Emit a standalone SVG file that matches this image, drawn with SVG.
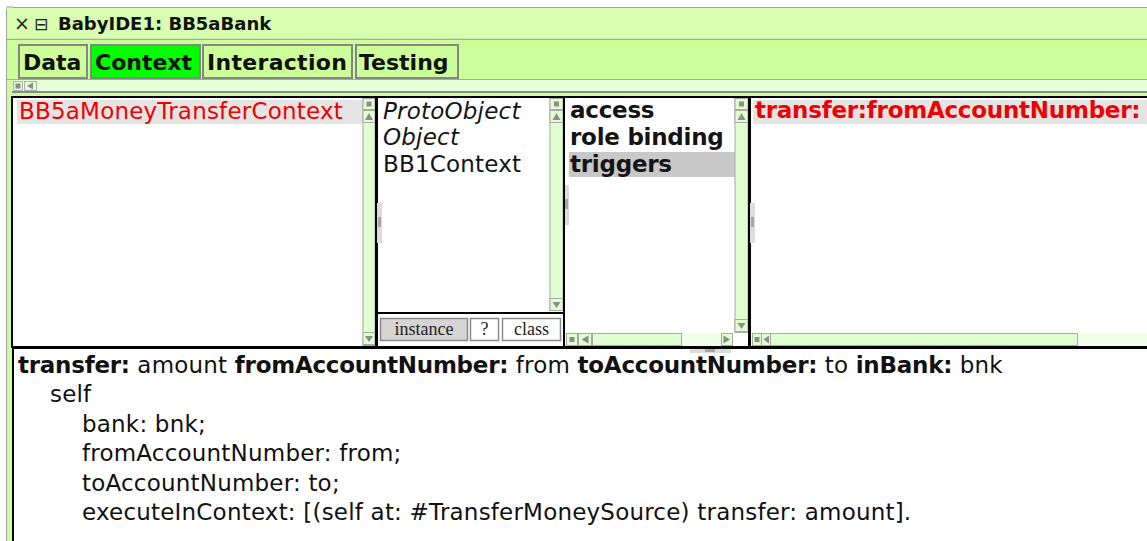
<svg xmlns="http://www.w3.org/2000/svg" width="1147" height="541" viewBox="0 0 1147 541">
  <style>
    .ui { font-family: "DejaVu Sans", "Liberation Sans", sans-serif; }
    .list { font-family: "DejaVu Sans", "Liberation Sans", sans-serif; font-size: 23px; fill: #141414; letter-spacing: 0.2px; }
    .code { font-family: "DejaVu Sans", "Liberation Sans", sans-serif; font-size: 23px; fill: #111111; letter-spacing: 0.2px; }
    .red { fill: #f00000; }
    .b { font-weight: bold; letter-spacing: -0.25px; }
    .tab { fill: #ccff99; stroke: #858585; stroke-width: 2; }
    .tabtext { font-family: "DejaVu Sans", "Liberation Sans", sans-serif; font-size: 22px; font-weight: bold; fill: #111111; }
    .sb { fill: #e0ffd0; stroke: #a8a8a8; stroke-width: 1; }
    .sbtrack { fill: #f0ffe8; stroke: none; }
    .knob { fill: #8c8c8c; }
    .arrow { fill: #8c8c8c; }
    .pane { fill: #ffffff; }
    .border { stroke: #000000; fill: none; }
    .btn { stroke: #8a8a8a; stroke-width: 1.5; }
    .btntext { font-family: "Liberation Serif", "DejaVu Serif", serif; font-size: 18px; fill: #222222; text-anchor: middle; }
    .grip { fill: #dcdcdc; }
    .gripdark { fill: #a6a6a6; }
  </style>

  <!-- page background -->
  <rect x="0" y="0" width="1147" height="541" fill="#ffffff"/>

  <!-- window frame -->
  <g id="window">
    <rect x="6.5" y="7.5" width="1145" height="540" fill="#ccff99" stroke="#a0a0a0" stroke-width="1"/>
    <rect x="6" y="6" width="7" height="4" fill="#c8c8c8"/>
    <!-- title bar -->
    <rect x="7" y="8" width="1140" height="31" fill="#d8ffb0"/>
    <line x1="7" y1="39.5" x2="1147" y2="39.5" stroke="#a8a8a8" stroke-width="1.5"/>
    <text x="14" y="30" class="ui" font-size="19" fill="#222">×</text>
    <text x="34" y="30" class="ui" font-size="17" fill="#222">⊟</text>
    <text x="58" y="30" class="ui" font-size="18" font-weight="bold" fill="#111">BabyIDE1: BB5aBank</text>
  </g>

  <!-- tab row -->
  <g id="tabs">
    <rect x="7" y="40" width="1140" height="39" fill="#ccff99"/>
    <line x1="7" y1="79.5" x2="1147" y2="79.5" stroke="#a8a8a8" stroke-width="1"/>
    <g id="tab-data">
      <rect x="19" y="45" width="68" height="33" class="tab"/>
      <text x="23" y="70" class="tabtext">Data</text>
    </g>
    <g id="tab-context">
      <rect x="91" y="45" width="109" height="33" class="tab" style="fill:#00ff00"/>
      <text x="95" y="70" class="tabtext">Context</text>
    </g>
    <g id="tab-interaction">
      <rect x="203" y="45" width="149" height="33" class="tab"/>
      <text x="207" y="70" class="tabtext" letter-spacing="0.3">Interaction</text>
    </g>
    <g id="tab-testing">
      <rect x="356" y="45" width="102" height="33" class="tab"/>
      <text x="359" y="70" class="tabtext">Testing</text>
    </g>
  </g>

  <!-- thin horizontal scroller under the tabs -->
  <g id="tabscroller">
    <rect x="12" y="80" width="1135" height="12" fill="#e6ffd6"/>
    <line x1="12" y1="92" x2="1147" y2="92" stroke="#8a8a8a" stroke-width="2"/>
    <rect x="13.5" y="81.5" width="9" height="9" fill="#e0ffd0" stroke="#b0b0b0"/>
    <rect x="15.5" y="83.5" width="5" height="5" class="knob"/>
    <rect x="24.5" y="81.5" width="12" height="9" fill="#e0ffd0" stroke="#b0b0b0"/>
    <polygon points="27,86 33,82.5 33,89.5" class="arrow"/>
  </g>

  <!-- browser panes background -->
  <rect x="13" y="97" width="1134" height="250" class="pane"/>

  <!-- class list -->
  <g id="pane-classes">
    <rect x="17" y="100" width="346" height="24" fill="#e4e4e4"/>
    <text x="19" y="119" class="list red">BB5aMoneyTransferContext</text>
    <rect x="363" y="97.5" width="12" height="248" class="sb"/>
    <rect x="363" y="98.5" width="12" height="11" class="sb"/>
    <rect x="366.5" y="101.5" width="5" height="5" class="knob"/>
    <rect x="363" y="110.5" width="12" height="12" class="sb"/>
    <polygon points="369,113 373,120 365,120" class="arrow"/>
    <rect x="363" y="332.5" width="12" height="12" class="sb"/>
    <polygon points="365,336 373,336 369,342" class="arrow"/>
  </g>

  <!-- superclass chain -->
  <g id="pane-hierarchy">
    <text x="383" y="119" class="list" font-style="italic">ProtoObject</text>
    <text x="383" y="145" class="list" font-style="italic">Object</text>
    <text x="383" y="172" class="list">BB1Context</text>
    <rect x="550" y="97.5" width="13" height="213" class="sb"/>
    <rect x="550" y="98.5" width="13" height="11" class="sb"/>
    <rect x="554" y="101.5" width="5" height="5" class="knob"/>
    <rect x="550" y="110.5" width="13" height="12" class="sb"/>
    <polygon points="556.5,113 560.5,120 552.5,120" class="arrow"/>
    <rect x="550" y="298.5" width="13" height="12" class="sb"/>
    <polygon points="552.5,302 560.5,302 556.5,308" class="arrow"/>
    <!-- instance / ? / class switch -->
    <line x1="377" y1="313" x2="564" y2="313" stroke="#000" stroke-width="2"/>
    <rect x="378" y="314" width="185" height="32" fill="#ffffff"/>
    <g id="btn-instance">
      <rect x="380.5" y="318.5" width="87" height="22" fill="#d4d4d4" class="btn"/>
      <text x="424" y="335" class="btntext">instance</text>
    </g>
    <g id="btn-help">
      <rect x="470.5" y="318.5" width="28" height="22" fill="#ffffff" class="btn"/>
      <text x="484.5" y="335" class="btntext">?</text>
    </g>
    <g id="btn-class">
      <rect x="502.5" y="318.5" width="58" height="22" fill="#ffffff" class="btn"/>
      <text x="531.5" y="335" class="btntext">class</text>
    </g>
  </g>

  <!-- protocol categories -->
  <g id="pane-categories">
    <rect x="569" y="152" width="166" height="25" fill="#c8c8c8"/>
    <text x="570" y="118" class="list b">access</text>
    <text x="570" y="145" class="list b">role binding</text>
    <text x="570" y="172" class="list b">triggers</text>
    <rect x="735" y="97.5" width="13" height="235" class="sb"/>
    <rect x="735" y="98.5" width="13" height="11" class="sb"/>
    <rect x="739" y="101.5" width="5" height="5" class="knob"/>
    <rect x="735" y="110.5" width="13" height="12" class="sb"/>
    <polygon points="741.5,113 745.5,120 737.5,120" class="arrow"/>
    <rect x="735" y="319.5" width="13" height="12" class="sb"/>
    <polygon points="737.5,323 745.5,323 741.5,329" class="arrow"/>
    <!-- horizontal scroller -->
    <rect x="566" y="333" width="167" height="13" class="sbtrack"/>
    <rect x="566.5" y="333.5" width="11" height="12" class="sb"/>
    <rect x="569.5" y="337" width="5" height="5" class="knob"/>
    <rect x="578.5" y="333.5" width="13" height="12" class="sb"/>
    <polygon points="581.5,339.5 588.5,335.5 588.5,343.5" class="arrow"/>
    <rect x="592.5" y="333.5" width="89" height="12" class="sb"/>
    <rect x="721.5" y="333.5" width="11" height="12" class="sb"/>
    <polygon points="730,339.5 723.5,335.5 723.5,343.5" class="arrow"/>
    <rect x="733" y="333" width="15" height="13" fill="#ffffff"/>
  </g>

  <!-- method list -->
  <g id="pane-methods">
    <rect x="753" y="100" width="394" height="24" fill="#e4e4e4"/>
    <text x="755" y="118" class="list b red">transfer:fromAccountNumber:</text>
    <rect x="752" y="333" width="395" height="13" class="sbtrack"/>
    <rect x="752.5" y="333.5" width="9" height="12" class="sb"/>
    <rect x="754.5" y="337" width="5" height="5" class="knob"/>
    <rect x="761.5" y="333.5" width="9" height="12" class="sb"/>
    <polygon points="763.5,339.5 769,335.5 769,343.5" class="arrow"/>
    <rect x="770.5" y="333.5" width="307" height="12" class="sb"/>
  </g>

  <!-- pane borders -->
  <g id="pane-borders">
    <rect x="12" y="97" width="1140" height="250" class="border" stroke-width="2"/>
    <line x1="376.5" y1="97" x2="376.5" y2="347" stroke="#000" stroke-width="3"/>
    <line x1="564" y1="97" x2="564" y2="347" stroke="#000" stroke-width="2"/>
    <line x1="749.5" y1="97" x2="749.5" y2="347" stroke="#000" stroke-width="3"/>
  </g>

  <!-- splitter grips -->
  <g id="grips">
    <rect x="377" y="203" width="5" height="40" class="grip"/>
    <rect x="378" y="217" width="3" height="10" class="gripdark"/>
    <rect x="565" y="185" width="4" height="40" class="grip"/>
    <rect x="565" y="199" width="3" height="10" class="gripdark"/>
    <rect x="750" y="203" width="5" height="40" class="grip"/>
    <rect x="751" y="217" width="3" height="10" class="gripdark"/>
  </g>

  <!-- code editor -->
  <g id="pane-code">
    <rect x="13" y="348" width="1134" height="193" fill="#ffffff"/>
    <line x1="12" y1="347.5" x2="1147" y2="347.5" stroke="#000" stroke-width="3"/>
    <line x1="13" y1="347" x2="13" y2="541" stroke="#000" stroke-width="2"/>
    <rect x="690" y="349" width="41" height="4" class="grip"/>
    <rect x="705" y="349" width="10" height="3" class="gripdark"/>
    <text x="18" y="373" class="code"><tspan class="b">transfer:</tspan> amount <tspan class="b">fromAccountNumber:</tspan> from <tspan class="b">toAccountNumber:</tspan> to <tspan class="b">inBank:</tspan> bnk</text>
    <text x="50" y="402" class="code">self</text>
    <text x="82" y="432" class="code">bank: bnk;</text>
    <text x="82" y="461" class="code">fromAccountNumber: from;</text>
    <text x="82" y="491" class="code">toAccountNumber: to;</text>
    <text x="82" y="520" class="code">executeInContext: [(self at: #TransferMoneySource) transfer: amount].</text>
  </g>
</svg>
